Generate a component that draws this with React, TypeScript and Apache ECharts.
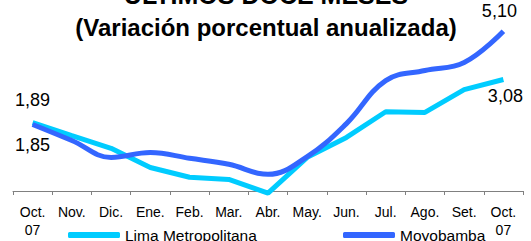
import React, { useEffect, useRef } from "react";
import * as echarts from "echarts";

const categories = ["Oct.\n07", "Nov.", "Dic.", "Ene.", "Feb.", "Mar.", "Abr.", "May.", "Jun.", "Jul.", "Ago.", "Set.", "Oct.\n07"];
const limaValues = [1.89, 1.53, 1.18, 0.65, 0.38, 0.32, -0.06, 0.93, 1.48, 2.19, 2.17, 2.8, 3.08];
const moyoValues = [1.85, 1.29, 0.7, 0.87, 0.67, 0.46, 0.11, 0.73, 1.88, 3.38, 3.73, 4.01, 5.1];
const seriesNames = ["Lima Metropolitana", "Moyobamba"];
const titleLines = ["ÚLTIMOS DOCE MESES", "(Variación porcentual anualizada)"];

const FONT = 'Arial, "Liberation Sans", sans-serif';
const fmt = (v: number) => v.toFixed(2).replace(".", ",");

function withEndLabels(values: number[], first: any, last: any) {
  return values.map((v, i) => {
    if (i === 0) return { value: v, label: { show: true, ...first } };
    if (i === values.length - 1) return { value: v, label: { show: true, ...last } };
    return v;
  });
}

export default function App() {
  const ref = useRef<HTMLDivElement>(null);
  useEffect(() => {
    if (!ref.current) return;
    const chart = echarts.init(ref.current, null, { renderer: "svg" });
    const labelStyle = {
      fontFamily: FONT,
      fontSize: 18,
      color: "#000",
      formatter: (p: any) => fmt(p.value),
    };
    chart.setOption({
      animation: false,
      backgroundColor: "#fff",
      graphic: [
        {
          type: "text",
          x: 266,
          y: -5,
          style: { text: titleLines[0], font: `bold 25px ${FONT}`, fill: "#000", align: "center", verticalAlign: "middle" },
        },
        {
          type: "text",
          x: 266,
          y: 27.5,
          style: { text: titleLines[1], font: `bold 24px ${FONT}`, fill: "#000", align: "center", verticalAlign: "middle" },
        },
      ],
      legend: [
        {
          data: [seriesNames[0]],
          left: 63,
          top: 222,
          icon: "roundRect",
          itemWidth: 52,
          itemHeight: 6,
          textStyle: { fontFamily: FONT, fontSize: 15.5, color: "#000" },
        },
        {
          data: [seriesNames[1]],
          left: 338,
          top: 222,
          icon: "roundRect",
          itemWidth: 52,
          itemHeight: 6,
          textStyle: { fontFamily: FONT, fontSize: 15.5, color: "#000" },
        },
      ],
      grid: { left: 13, right: 8, top: 10, bottom: 50, containLabel: false },
      xAxis: {
        type: "category",
        data: categories,
        boundaryGap: true,
        axisLine: { onZero: false, lineStyle: { color: "#808080", width: 1 } },
        axisTick: { show: true, length: 4, lineStyle: { color: "#808080" } },
        axisLabel: { interval: 0, fontFamily: FONT, fontSize: 14, color: "#000", lineHeight: 18, margin: 12 },
        splitLine: { show: false },
      },
      yAxis: [
        { type: "value", min: 0, max: 5, show: false, splitLine: { show: false } },
        { type: "value", min: -0.47, max: 5.84, show: false, splitLine: { show: false } },
      ],
      series: [
        {
          name: seriesNames[0],
          type: "line",
          yAxisIndex: 0,
          data: withEndLabels(
            limaValues,
            { ...labelStyle, position: "top", distance: 14 },
            { ...labelStyle, position: "bottom", distance: 7, offset: [2, 0] }
          ),
          showSymbol: true,
          showAllSymbol: true,
          symbol: "circle",
          symbolSize: 0.01,
          clip: false,
          lineStyle: { color: "#00CCFF", width: 5 },
          itemStyle: { color: "#00CCFF" },
          z: 2,
        },
        {
          name: seriesNames[1],
          type: "line",
          yAxisIndex: 1,
          smooth: 0.4,
          data: withEndLabels(
            moyoValues,
            { ...labelStyle, position: "bottom", distance: 12 },
            { ...labelStyle, position: "top", distance: 11, offset: [-4, 0] }
          ),
          showSymbol: true,
          showAllSymbol: true,
          symbol: "circle",
          symbolSize: 0.01,
          clip: false,
          lineStyle: { color: "#3366FF", width: 5 },
          itemStyle: { color: "#3366FF" },
          z: 3,
        },
      ],
    });
    return () => chart.dispose();
  }, []);
  return <div ref={ref} style={{ position: "absolute", left: 0, top: 0, width: 531, height: 241 }} />;
}
